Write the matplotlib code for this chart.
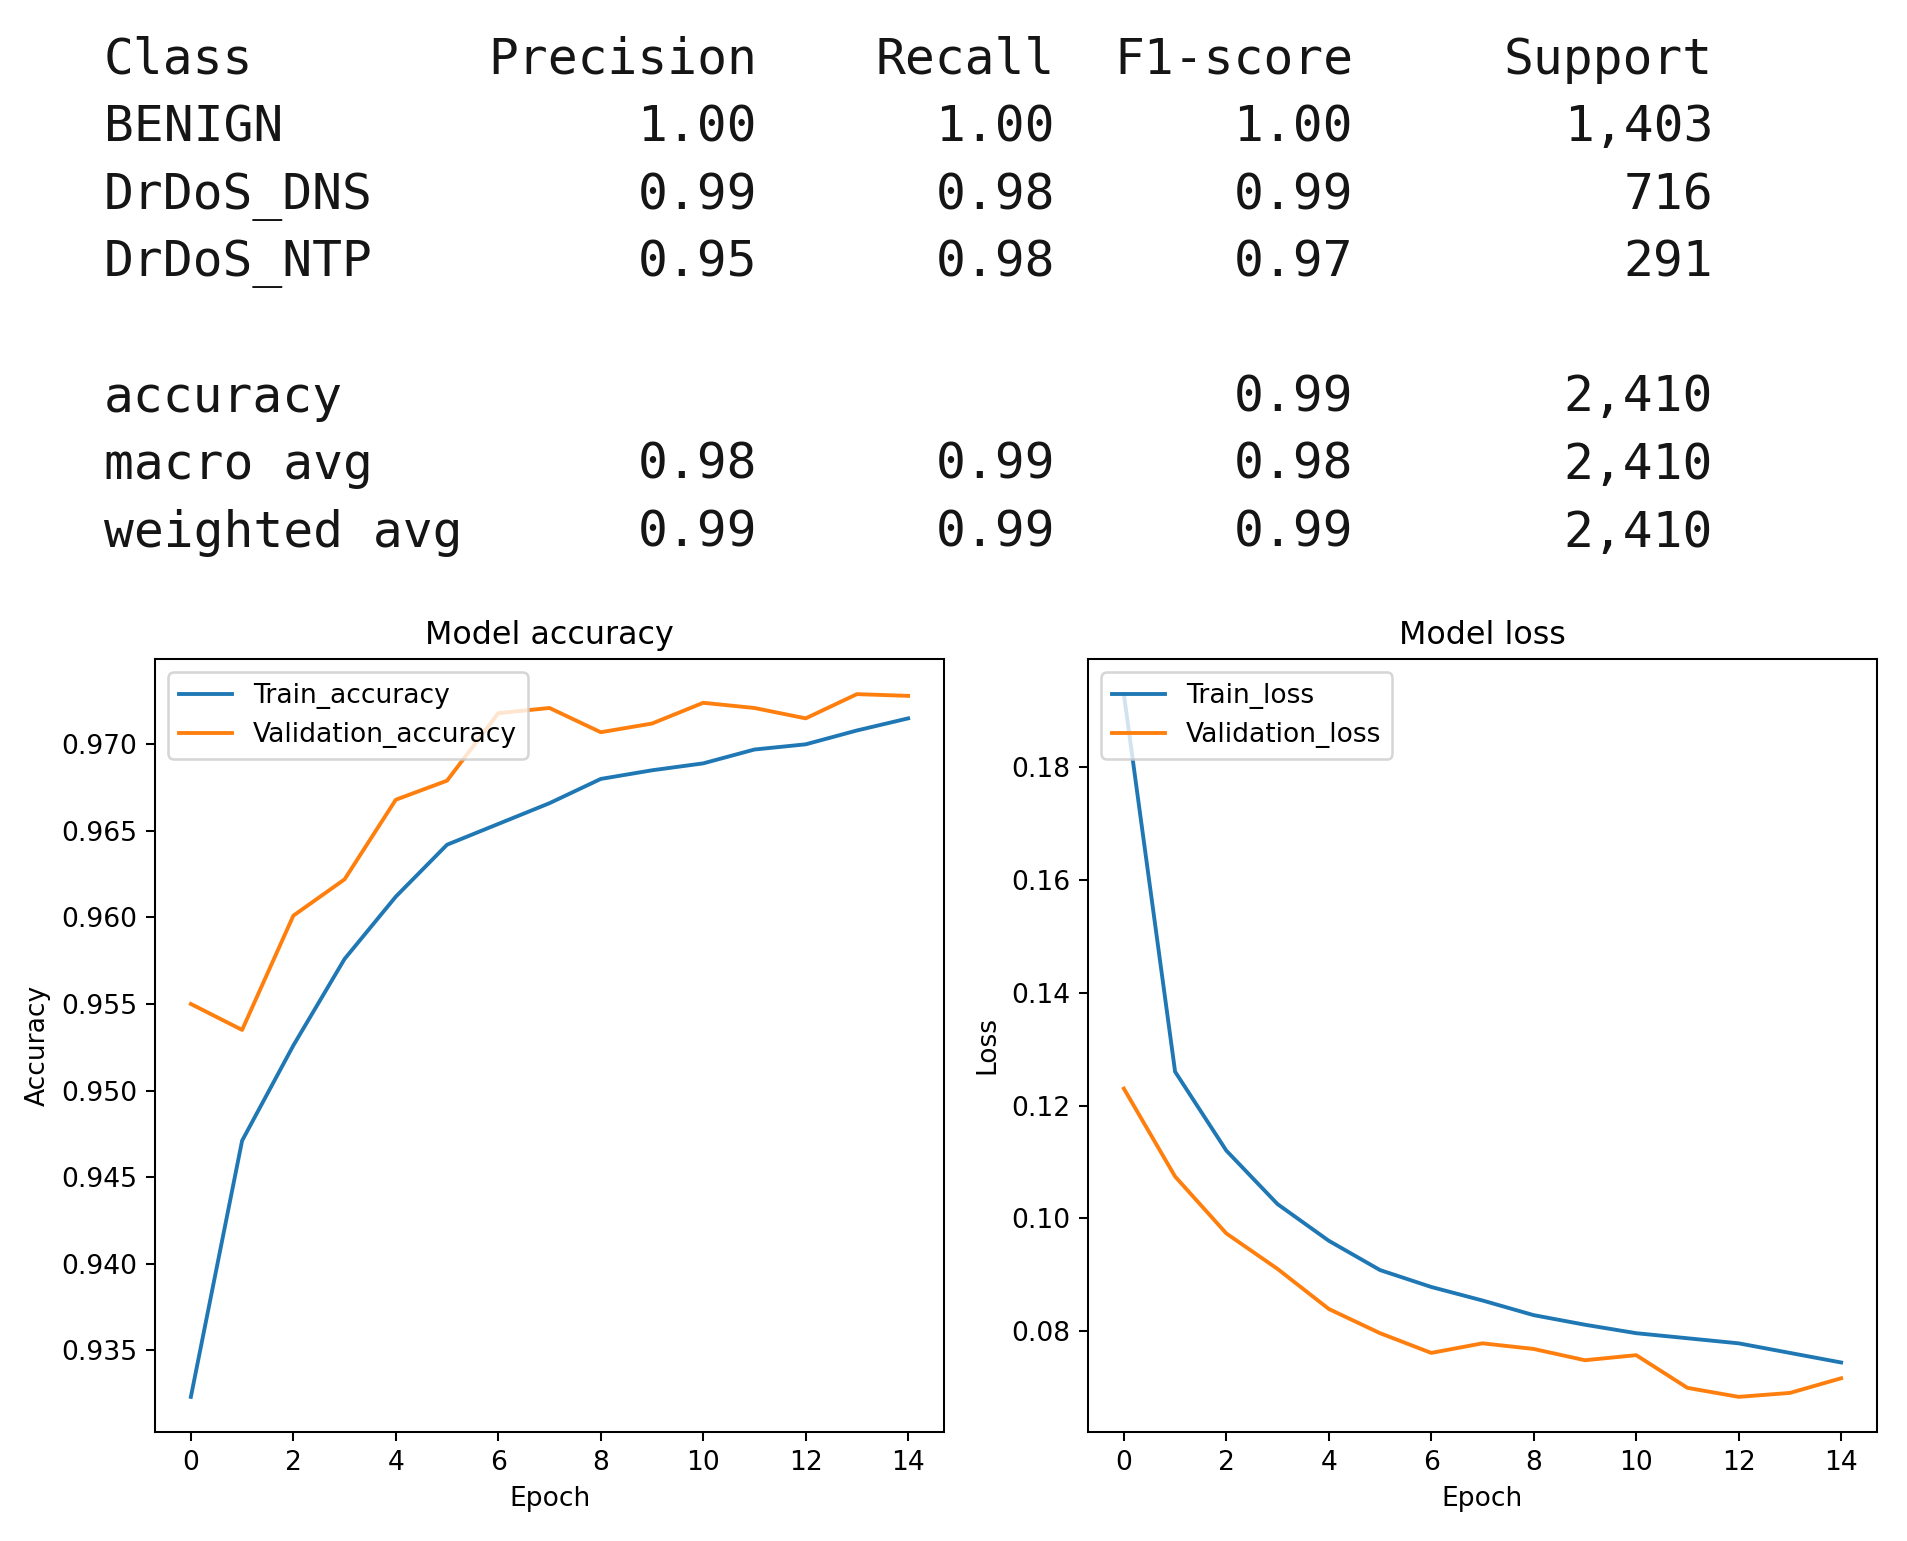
import matplotlib
matplotlib.use("Agg")
import matplotlib.pyplot as plt

# ---- classification report data ----
header = ["Class", "Precision", "Recall", "F1-score", "Support"]
row_names = ["BENIGN", "DrDoS_DNS", "DrDoS_NTP", "", "accuracy", "macro avg", "weighted avg"]
precision = ["1.00", "0.99", "0.95", "", "", "0.98", "0.99"]
recall = ["1.00", "0.98", "0.98", "", "", "0.99", "0.99"]
f1 = ["1.00", "0.99", "0.97", "", "0.99", "0.98", "0.99"]
support = ["1,403", "716", "291", "", "2,410", "2,410", "2,410"]

# ---- training history data ----
epochs = list(range(15))
train_acc = [0.9323, 0.9471, 0.9526, 0.9576, 0.9612, 0.9642, 0.9654, 0.9666,
             0.9680, 0.9685, 0.9689, 0.9697, 0.9700, 0.9708, 0.9715]
val_acc = [0.9550, 0.9535, 0.9601, 0.9622, 0.9668, 0.9679, 0.9718, 0.9721,
           0.9707, 0.9712, 0.9724, 0.9721, 0.9715, 0.9729, 0.9728]
train_loss = [0.1930, 0.1260, 0.1120, 0.1025, 0.0960, 0.0908, 0.0878, 0.0854,
              0.0828, 0.0811, 0.0796, 0.0787, 0.0778, 0.0761, 0.0744]
val_loss = [0.1230, 0.1074, 0.0973, 0.0910, 0.0839, 0.0796, 0.0761, 0.0778,
            0.0768, 0.0748, 0.0757, 0.0699, 0.0683, 0.0690, 0.0716]

W, H = 1907, 1541
DPI = 185
plt.rcParams["font.size"] = 10.3
fig = plt.figure(figsize=(W / DPI, H / DPI), dpi=DPI)

# ---- table text ----
mono = "DejaVu Sans Mono"
tsize = 19.3
tcolor = "#151515"
x_left = 104
col_right = [757, 1055, 1353, 1713]

def fx(px):
    return px / W

def fy(py):
    return 1 - py / H

base0 = 74
step = 67.5
fig.text(fx(x_left), fy(base0), header[0], family=mono, fontsize=tsize,
         color=tcolor, ha="left", va="baseline")
for j, h in enumerate(header[1:]):
    fig.text(fx(col_right[j]), fy(base0), h, family=mono, fontsize=tsize,
             color=tcolor, ha="right", va="baseline")
for i, name in enumerate(row_names):
    yb = base0 + step * (i + 1)
    if name:
        fig.text(fx(x_left), fy(yb), name, family=mono, fontsize=tsize,
                 color=tcolor, ha="left", va="baseline")
    for j, vals in enumerate([precision, recall, f1, support]):
        if vals[i]:
            fig.text(fx(col_right[j]), fy(yb), vals[i], family=mono, fontsize=tsize,
                     color=tcolor, ha="right", va="baseline")

# ---- plots ----
ax_w = 789 / W
ax_h = 773 / H
ax_b = 1 - 1432 / H
ax1 = fig.add_axes([155 / W, ax_b, ax_w, ax_h])
ax2 = fig.add_axes([1088 / W, ax_b, ax_w, ax_h])

ax1.plot(epochs, train_acc, label="Train_accuracy")
ax1.plot(epochs, val_acc, label="Validation_accuracy")
ax1.set_title("Model accuracy")
ax1.set_xlabel("Epoch")
ax1.set_ylabel("Accuracy")
ax1.legend(loc="upper left")

ax2.plot(epochs, train_loss, label="Train_loss")
ax2.plot(epochs, val_loss, label="Validation_loss")
ax2.set_title("Model loss")
ax2.set_xlabel("Epoch")
ax2.set_ylabel("Loss")
ax2.legend(loc="upper left")

fig.savefig("out.png", dpi=DPI)
